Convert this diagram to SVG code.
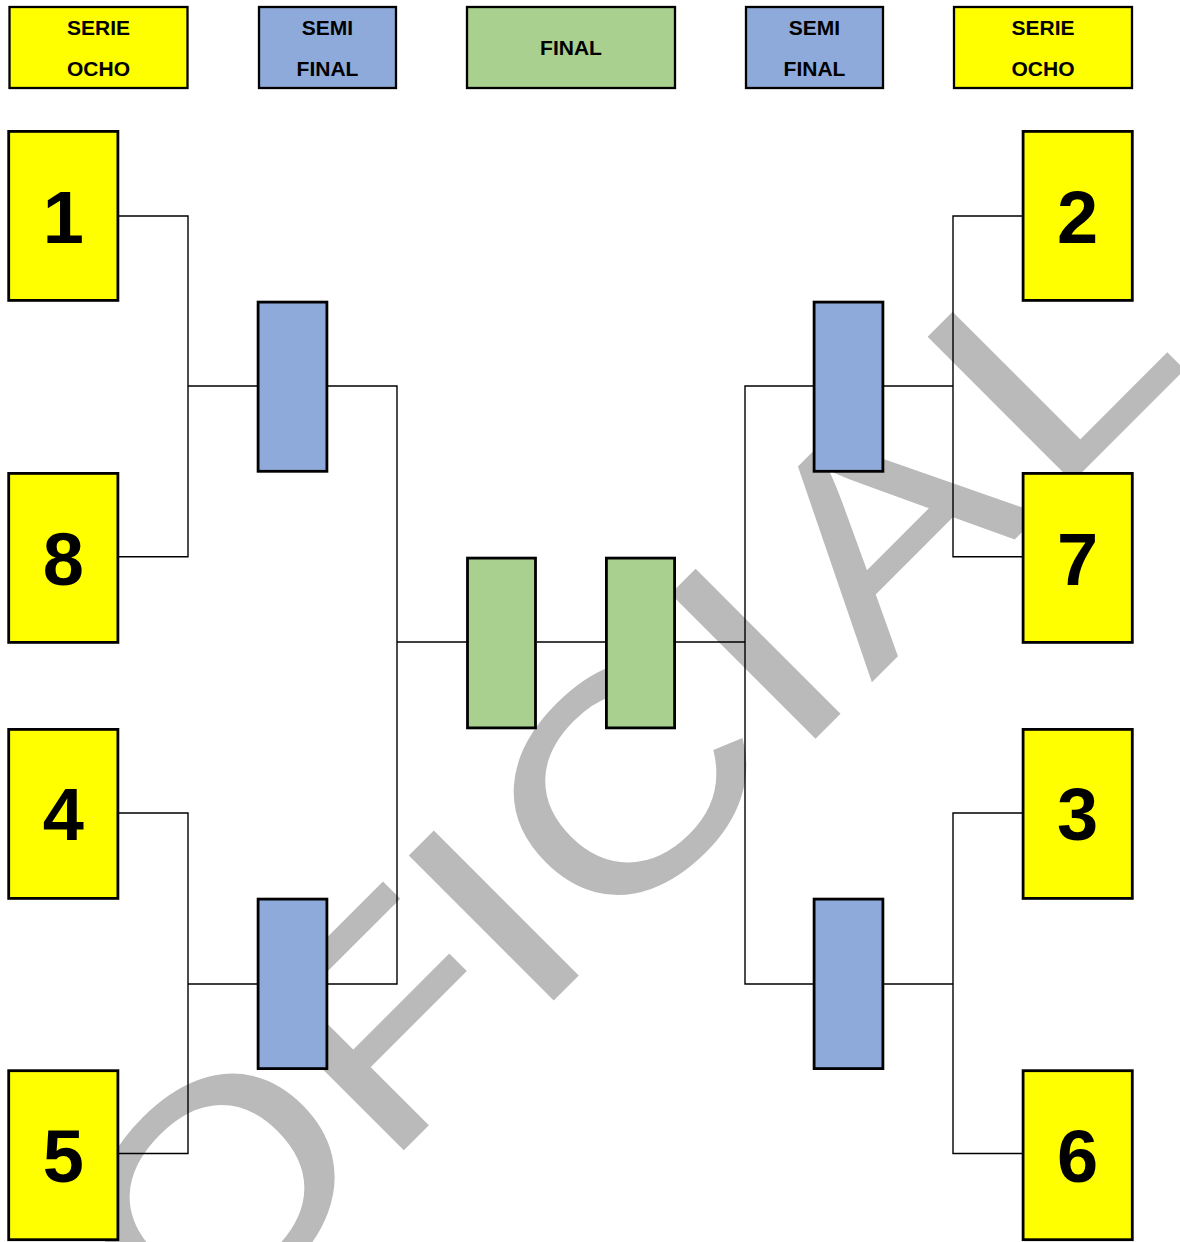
<svg xmlns="http://www.w3.org/2000/svg" width="1180" height="1242" viewBox="0 0 1180 1242">
<style>
.hdr{stroke:#000;stroke-width:2.3}
.box{stroke:#000;stroke-width:2.8}
.y{fill:#FFFF00}
.b{fill:#8EAADB}
.g{fill:#A9D08E}
.ht{font-family:"Liberation Sans",Arial,sans-serif;font-weight:bold;font-size:21px;text-anchor:middle;fill:#000}
.num{font-family:"Liberation Sans",Arial,sans-serif;font-weight:bold;font-size:74px;text-anchor:middle;fill:#000}
.wm{font-family:"Liberation Sans",Arial,sans-serif;font-size:295px;text-anchor:middle;fill:#BABABA;stroke:#BABABA;stroke-width:2}
.conn path{fill:none;stroke:#000;stroke-width:1.4}
</style>
<rect width="1180" height="1242" fill="#fff"/>
<g id="watermark" transform="rotate(-45) scale(1.2 1)">
<text class="wm" y="1098"><tspan x="-574.5">O</tspan><tspan x="-373">F</tspan><tspan x="-248.5">I</tspan><tspan x="-94">C</tspan><tspan x="60">I</tspan><tspan x="211">A</tspan><tspan x="407">L</tspan></text>
</g>
<g id="connectors" class="conn">
<path d="M119,216 H188 V556.7 H119 M188,386 H258"/>
<path d="M328,386 H397 V984 H328 M397,642 H467"/>
<path d="M119,813 H188 V1153.5 H119 M188,984 H258"/>
<path d="M537,642 H606 M676,642 H745"/>
<path d="M814,386 H745 V984 H814"/>
<path d="M1022,216 H953 V556.7 H1022 M953,386 H884"/>
<path d="M1022,813 H953 V1153.5 H1022 M953,984 H884"/>
</g>
<g id="hdr-serie-left"><rect class="hdr y" x="9.5" y="7" width="178" height="81"/><text class="ht" x="98.5" y="35.3">SERIE</text><text class="ht" x="98.5" y="75.7">OCHO</text></g>
<g id="hdr-semi-left"><rect class="hdr b" x="259" y="7" width="137" height="81"/><text class="ht" x="327.5" y="35.3">SEMI</text><text class="ht" x="327.5" y="75.7">FINAL</text></g>
<g id="hdr-final"><rect class="hdr g" x="467" y="7" width="208" height="81"/><text class="ht" x="571" y="55">FINAL</text></g>
<g id="hdr-semi-right"><rect class="hdr b" x="746" y="7" width="137" height="81"/><text class="ht" x="814.5" y="35.3">SEMI</text><text class="ht" x="814.5" y="75.7">FINAL</text></g>
<g id="hdr-serie-right"><rect class="hdr y" x="954" y="7" width="178" height="81"/><text class="ht" x="1043" y="35.3">SERIE</text><text class="ht" x="1043" y="75.7">OCHO</text></g>
<g id="team-1"><rect class="box y" x="8.7" y="131.4" width="109.2" height="169"/><text class="num" x="63.3" y="243.2">1</text></g>
<g id="team-8"><rect class="box y" x="8.7" y="473.4" width="109.2" height="169"/><text class="num" x="63.3" y="585">8</text></g>
<g id="team-4"><rect class="box y" x="8.7" y="729.4" width="109.2" height="169"/><text class="num" x="63.3" y="840.3">4</text></g>
<g id="team-5"><rect class="box y" x="8.7" y="1070.7" width="109.2" height="169"/><text class="num" x="63.3" y="1182">5</text></g>
<g id="team-2"><rect class="box y" x="1023.1" y="131.4" width="109.2" height="169"/><text class="num" x="1077.7" y="243.2">2</text></g>
<g id="team-7"><rect class="box y" x="1023.1" y="473.4" width="109.2" height="169"/><text class="num" x="1077.7" y="585">7</text></g>
<g id="team-3"><rect class="box y" x="1023.1" y="729.4" width="109.2" height="169"/><text class="num" x="1077.7" y="840.3">3</text></g>
<g id="team-6"><rect class="box y" x="1023.1" y="1070.7" width="109.2" height="169"/><text class="num" x="1077.7" y="1182">6</text></g>
<g id="semi-left-top"><rect class="box b" x="258.1" y="302.1" width="68.8" height="169.2"/></g>
<g id="semi-left-bottom"><rect class="box b" x="258.1" y="899.1" width="68.8" height="169.5"/></g>
<g id="semi-right-top"><rect class="box b" x="814.1" y="302.1" width="68.8" height="169.2"/></g>
<g id="semi-right-bottom"><rect class="box b" x="814.1" y="899.1" width="68.8" height="169.5"/></g>
<g id="final-left"><rect class="box g" x="467.5" y="558.1" width="68" height="169.8"/></g>
<g id="final-right"><rect class="box g" x="606.4" y="558.1" width="68.2" height="169.8"/></g>
</svg>
